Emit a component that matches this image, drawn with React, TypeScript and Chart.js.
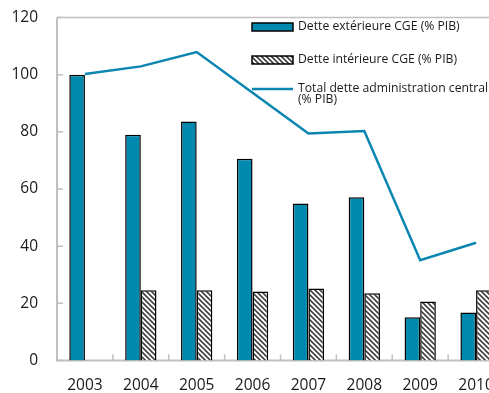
import React, { useEffect, useRef } from "react";
import { Chart, registerables } from "chart.js";

Chart.register(...registerables);

const categories = ["2003", "2004", "2005", "2006", "2007", "2008", "2009", "2010"];
const externalDebt = [100, 79, 83.6, 70.6, 54.9, 57.1, 15.1, 16.8];
const internalDebt = [null, 24.6, 24.6, 24.1, 25.2, 23.5, 20.6, 24.6];
const totalDebt = [100.2, 102.9, 107.9, 93.7, 79.4, 80.3, 35.1, 41.2];
const yMin = 0;
const yMax = 120;
const yStep = 20;
const labelExternal = "Dette extérieure CGE (% PIB)";
const labelInternal = "Dette intérieure CGE (% PIB)";
const labelTotal = ["Total dette administration centrale", "(% PIB)"];

const BLUE = "#0089ae";
const LINE_BLUE = "#0a86b0";
const AXIS_GREY = "#c0c0c0";
const FONT = "'Open Sans', 'DejaVu Sans', sans-serif";

function makeHatch(): CanvasPattern | string {
  const c = document.createElement("canvas");
  const n = 5;
  c.width = n;
  c.height = n;
  const g = c.getContext("2d");
  if (!g) return "#888";
  g.fillStyle = "#ffffff";
  g.fillRect(0, 0, n, n);
  g.strokeStyle = "#404040";
  g.lineWidth = 1.6;
  g.beginPath();
  g.moveTo(-1, -1);
  g.lineTo(n + 1, n + 1);
  g.moveTo(-1, n - 1);
  g.lineTo(1, n + 1);
  g.moveTo(n - 1, -1);
  g.lineTo(n + 1, 1);
  g.stroke();
  const p = g.createPattern(c, "repeat");
  return p || "#888";
}

const framePlugin = {
  id: "frameTicks",
  beforeDatasetsDraw(chart: any) {
    const { ctx, chartArea } = chart;
    const { left, top, right, bottom } = chartArea;
    const xs = chart.scales.x;
    const ys = chart.scales.y;
    ctx.save();
    ctx.strokeStyle = AXIS_GREY;
    ctx.lineWidth = 1.5;
    ctx.beginPath();
    ctx.moveTo(left, top);
    ctx.lineTo(right, top);
    ctx.lineTo(right, bottom);
    ctx.stroke();
    ctx.lineWidth = 2;
    ctx.beginPath();
    ctx.moveTo(left, top);
    ctx.lineTo(left, bottom);
    ctx.lineTo(right, bottom);
    ctx.stroke();
    ctx.lineWidth = 1.5;
    ctx.beginPath();
    ys.ticks.forEach((t: any) => {
      const y = ys.getPixelForValue(t.value);
      ctx.moveTo(left, y);
      ctx.lineTo(left + 6, y);
    });
    const n = categories.length;
    const w = xs.getPixelForValue(1) - xs.getPixelForValue(0);
    for (let i = 1; i < n; i++) {
      const x = xs.getPixelForValue(i) - w / 2;
      ctx.moveTo(x, bottom);
      ctx.lineTo(x, bottom - 6);
    }
    ctx.stroke();
    ctx.restore();
  },
};

const legendPlugin = {
  id: "insideLegend",
  afterDatasetsDraw(chart: any) {
    const { ctx, chartArea } = chart;
    const ds = chart.data.datasets;
    const bx = chartArea.left + 195;
    const bw = 41;
    const tx = bx + bw + 5;
    ctx.save();
    ctx.font = `12.2px ${FONT}`;
    ctx.textBaseline = "middle";
    ctx.textAlign = "left";
    const rows = [chartArea.top + 9.5, chartArea.top + 42.5];
    [0, 1].forEach((i) => {
      const y = rows[i];
      ctx.fillStyle = ds[i].backgroundColor;
      ctx.fillRect(bx, y - 4, bw, 8);
      ctx.strokeStyle = "#000";
      ctx.lineWidth = 1.5;
      ctx.strokeRect(bx, y - 4, bw, 8);
      ctx.fillStyle = "#1a1a1a";
      ctx.fillText(ds[i].label, tx, y);
    });
    const y3 = chartArea.top + 71.5;
    ctx.strokeStyle = ds[2].borderColor;
    ctx.lineWidth = 2.5;
    ctx.beginPath();
    ctx.moveTo(bx, y3);
    ctx.lineTo(bx + bw, y3);
    ctx.stroke();
    ctx.fillStyle = "#1a1a1a";
    labelTotal.forEach((line, k) => ctx.fillText(line, tx, y3 + k * 11));
    ctx.restore();
  },
};

export default function App() {
  const ref = useRef<HTMLCanvasElement | null>(null);
  useEffect(() => {
    if (!ref.current) return;
    const hatch = makeHatch();
    const chart = new Chart(ref.current, {
      type: "bar",
      data: {
        labels: categories,
        datasets: [
          {
            type: "bar",
            label: labelExternal,
            data: externalDebt,
            backgroundColor: BLUE,
            borderColor: "#000",
            borderWidth: 1.5,
            categoryPercentage: 0.56,
            barPercentage: 1,
            order: 2,
          },
          {
            type: "bar",
            label: labelInternal,
            data: internalDebt as any,
            backgroundColor: hatch as any,
            borderColor: "#000",
            borderWidth: 1.5,
            categoryPercentage: 0.56,
            barPercentage: 1,
            order: 2,
          },
          {
            type: "line",
            label: labelTotal.join(" "),
            data: totalDebt,
            borderColor: LINE_BLUE,
            backgroundColor: LINE_BLUE,
            borderWidth: 2.5,
            pointRadius: 0,
            tension: 0,
            order: 1,
          } as any,
        ],
      },
      options: {
        responsive: false,
        animation: false,
        devicePixelRatio: 1,
        layout: { padding: { top: 17.5, right: 6, left: 0, bottom: 0 } },
        plugins: { legend: { display: false }, tooltip: { enabled: false } },
        scales: {
          x: {
            grid: { display: false, drawTicks: false },
            border: { display: false },
            ticks: {
              color: "#1a1a1a",
              font: { family: FONT, size: 15.5 },
              padding: 16,
              maxRotation: 0,
              autoSkip: false,
            },
            afterFit(scale: any) {
              scale.height = 32.5;
              scale.paddingLeft = 0;
              scale.paddingRight = 0;
            },
          },
          y: {
            min: yMin,
            max: yMax,
            grid: { display: false, drawTicks: false },
            border: { display: false },
            ticks: {
              stepSize: yStep,
              color: "#1a1a1a",
              font: { family: FONT, size: 15.5 },
              padding: 19,
            },
            afterFit(scale: any) {
              scale.width = 57;
              scale.paddingTop = 0;
              scale.paddingBottom = 0;
            },
          },
        },
      },
      plugins: [framePlugin, legendPlugin],
    });
    return () => chart.destroy();
  }, []);
  return (
    <div
      style={{
        position: "fixed",
        left: 0,
        top: 0,
        width: 489,
        height: 393,
        overflow: "hidden",
        background: "#fff",
      }}
    >
      <canvas ref={ref} width={510} height={393} style={{ display: "block" }} />
    </div>
  );
}
